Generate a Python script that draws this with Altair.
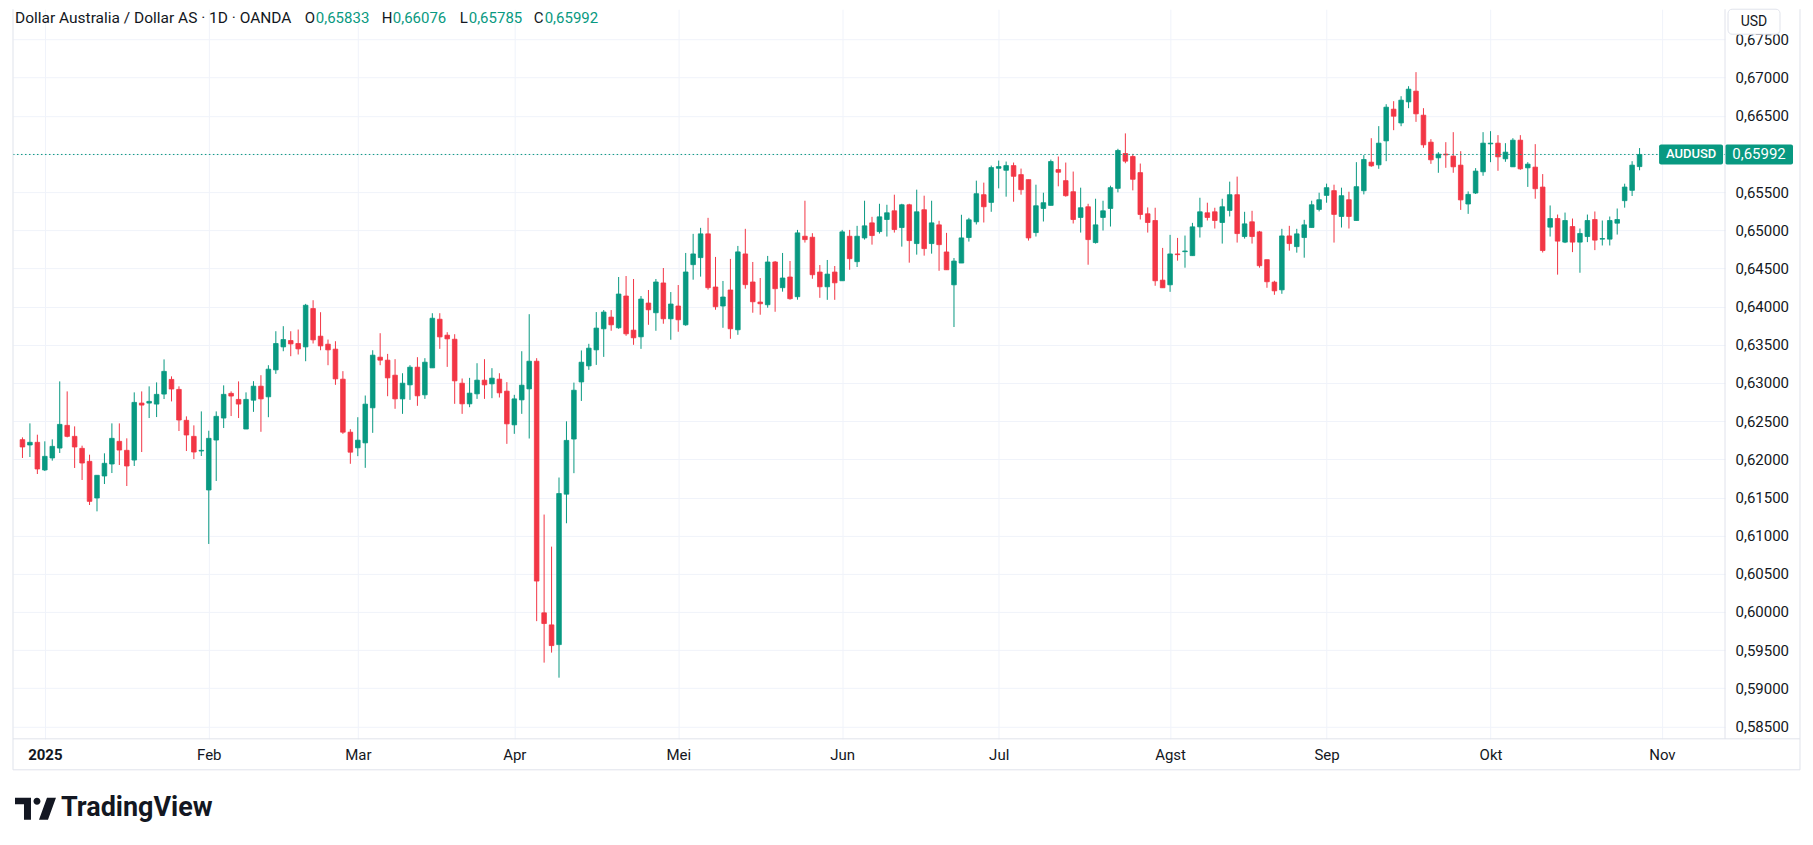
import altair as alt
import pandas as pd

# ---- data (AUD/USD daily, OANDA) ----
opens = [0.62257, 0.62187, 0.62222, 0.61860, 0.62017, 0.62147, 0.62444, 0.62300, 0.62143, 0.61973,
         0.61493, 0.61781, 0.61938, 0.62235, 0.62117, 0.61990, 0.62736, 0.62736, 0.62723, 0.62854,
         0.63046, 0.62915, 0.62510, 0.62300, 0.62108, 0.61598, 0.62252, 0.62540, 0.62863, 0.62784,
         0.62396, 0.62774, 0.62957, 0.62818, 0.63171, 0.63472, 0.63555, 0.63516, 0.63472, 0.63974,
         0.63612, 0.63507, 0.63442, 0.63049, 0.62355, 0.62150, 0.62215, 0.62674, 0.63337, 0.63298,
         0.63101, 0.62791, 0.62975, 0.63206, 0.62844, 0.63197, 0.63834, 0.63625, 0.63572, 0.62996,
         0.62726, 0.62857, 0.63036, 0.62988, 0.63049, 0.62892, 0.62451, 0.62778, 0.62922, 0.63284,
         0.59989, 0.59831, 0.59573, 0.61543, 0.62265, 0.63013, 0.63223, 0.63433, 0.63709, 0.63862,
         0.63722, 0.64138, 0.63691, 0.63604, 0.64046, 0.63919, 0.64309, 0.63840, 0.64007, 0.63761,
         0.64549, 0.64641, 0.64952, 0.64256, 0.64007, 0.64217, 0.63696, 0.64689, 0.64322, 0.64059,
         0.64024, 0.64584, 0.64247, 0.64387, 0.64129, 0.64921, 0.64908, 0.64452, 0.64259, 0.64452,
         0.64338, 0.64921, 0.64588, 0.64899, 0.65096, 0.64982, 0.65140, 0.65254, 0.65035, 0.65333,
         0.64825, 0.65268, 0.64825, 0.65070, 0.64715, 0.64285, 0.64570, 0.64904, 0.65110, 0.65465,
         0.65364, 0.65811, 0.65785, 0.65846, 0.65728, 0.65662, 0.64969, 0.65285, 0.65325, 0.65794,
         0.65649, 0.65504, 0.65167, 0.65307, 0.64838, 0.65167, 0.65285, 0.65548, 0.66004, 0.65965,
         0.65754, 0.65215, 0.65127, 0.64346, 0.64285, 0.64689, 0.64719, 0.64667, 0.65044, 0.65228,
         0.65241, 0.65101, 0.65259, 0.65465, 0.64917, 0.65110, 0.64978, 0.64614, 0.64320, 0.64219,
         0.64925, 0.64785, 0.64904, 0.65035, 0.65272, 0.65456, 0.65518, 0.65180, 0.65399, 0.65127,
         0.65517, 0.65891, 0.65856, 0.66170, 0.66585, 0.66405, 0.66681, 0.66821, 0.66506, 0.66153,
         0.65948, 0.65996, 0.65970, 0.65852, 0.65343, 0.65487, 0.65765, 0.66131, 0.66140, 0.65935,
         0.65830, 0.66179, 0.65817, 0.65826, 0.65565, 0.65040, 0.65153, 0.64844, 0.65048, 0.64844,
         0.64917, 0.65140, 0.64883, 0.64883, 0.65092, 0.65387, 0.65522, 0.65833]
highs = [0.62287, 0.62470, 0.62322, 0.62235, 0.62261, 0.63020, 0.62889, 0.62431, 0.62178, 0.62060,
         0.61790, 0.62078, 0.62470, 0.62470, 0.62274, 0.62876, 0.62889, 0.62955, 0.63007, 0.63308,
         0.63086, 0.62955, 0.62562, 0.62444, 0.62627, 0.62374, 0.62627, 0.62968, 0.62889, 0.63020,
         0.62876, 0.63023, 0.63101, 0.63232, 0.63677, 0.63743, 0.63677, 0.63699, 0.64035, 0.64083,
         0.63926, 0.63568, 0.63546, 0.63154, 0.62394, 0.62551, 0.62835, 0.63428, 0.63651, 0.63380,
         0.63311, 0.63127, 0.63232, 0.63337, 0.63324, 0.63913, 0.63913, 0.63664, 0.63638, 0.63058,
         0.63066, 0.63258, 0.63311, 0.63193, 0.63127, 0.63010, 0.62844, 0.63415, 0.63900, 0.63324,
         0.61276, 0.60856, 0.61761, 0.62497, 0.63004, 0.63425, 0.63512, 0.63928, 0.63954, 0.63954,
         0.64387, 0.64400, 0.64361, 0.64138, 0.64217, 0.64361, 0.64505, 0.64190, 0.64282, 0.64702,
         0.64952, 0.65031, 0.65162, 0.64650, 0.64335, 0.64624, 0.64794, 0.65018, 0.64584, 0.64374,
         0.64663, 0.64597, 0.64702, 0.64597, 0.65004, 0.65386, 0.64961, 0.64544, 0.64610, 0.64531,
         0.65004, 0.65004, 0.65057, 0.65386, 0.65175, 0.65346, 0.65333, 0.65465, 0.65346, 0.65346,
         0.65531, 0.65452, 0.65386, 0.65123, 0.64965, 0.64636, 0.65202, 0.65162, 0.65649, 0.65623,
         0.65846, 0.65912, 0.65899, 0.65886, 0.65807, 0.65662, 0.65596, 0.65491, 0.65925, 0.65965,
         0.65886, 0.65768, 0.65557, 0.65346, 0.65412, 0.65386, 0.65583, 0.66066, 0.66268, 0.66000,
         0.65873, 0.65298, 0.65294, 0.64768, 0.64939, 0.64899, 0.64930, 0.65096, 0.65425, 0.65360,
         0.65294, 0.65412, 0.65636, 0.65702, 0.65241, 0.65254, 0.64991, 0.64614, 0.64338, 0.65018,
         0.65057, 0.65018, 0.65136, 0.65386, 0.65491, 0.65610, 0.65596, 0.65557, 0.65504, 0.65891,
         0.65983, 0.66205, 0.66363, 0.66650, 0.66690, 0.66755, 0.66886, 0.67070, 0.66598, 0.66192,
         0.66022, 0.66153, 0.66284, 0.66035, 0.65508, 0.65813, 0.66284, 0.66297, 0.66245, 0.66140,
         0.66205, 0.66245, 0.65891, 0.66127, 0.65735, 0.65324, 0.65205, 0.65231, 0.65153, 0.65022,
         0.65205, 0.65245, 0.65127, 0.65179, 0.65284, 0.65609, 0.65904, 0.66076]
lows = [0.62017, 0.62030, 0.61807, 0.61846, 0.61982, 0.62082, 0.62287, 0.61886, 0.61729, 0.61401,
        0.61318, 0.61676, 0.61820, 0.61925, 0.61650, 0.61912, 0.62095, 0.62540, 0.62553, 0.62789,
        0.62758, 0.62370, 0.62108, 0.62003, 0.62043, 0.60891, 0.61716, 0.62409, 0.62566, 0.62540,
        0.62396, 0.62621, 0.62360, 0.62551, 0.63119, 0.63415, 0.63350, 0.63372, 0.63284, 0.63516,
        0.63428, 0.63232, 0.62975, 0.62333, 0.61941, 0.62041, 0.61888, 0.62346, 0.63232, 0.62826,
        0.62661, 0.62595, 0.62778, 0.62700, 0.62791, 0.63197, 0.63446, 0.63210, 0.62726, 0.62595,
        0.62682, 0.62791, 0.62791, 0.62800, 0.62809, 0.62202, 0.62333, 0.62595, 0.62272, 0.59880,
        0.59337, 0.59468, 0.59140, 0.61162, 0.61818, 0.62764, 0.63171, 0.63236, 0.63341, 0.63683,
        0.63709, 0.63617, 0.63499, 0.63446, 0.63761, 0.63683, 0.63775, 0.63565, 0.63670, 0.63748,
        0.64352, 0.64392, 0.64221, 0.63958, 0.63722, 0.63578, 0.63630, 0.64234, 0.63919, 0.63893,
        0.63985, 0.63932, 0.64195, 0.64090, 0.64090, 0.64838, 0.64364, 0.64114, 0.64088, 0.64088,
        0.64338, 0.64482, 0.64518, 0.64877, 0.64811, 0.64956, 0.64917, 0.64969, 0.64785, 0.64575,
        0.64680, 0.64667, 0.64693, 0.64469, 0.64482, 0.63732, 0.64570, 0.64851, 0.65075, 0.65101,
        0.65241, 0.65548, 0.65439, 0.65373, 0.65465, 0.64864, 0.64917, 0.65114, 0.65325, 0.65575,
        0.65439, 0.65088, 0.64969, 0.64548, 0.64825, 0.64996, 0.65048, 0.65496, 0.65877, 0.65522,
        0.65140, 0.64969, 0.64272, 0.64246, 0.64193, 0.64601, 0.64509, 0.64667, 0.64904, 0.65127,
        0.65022, 0.64825, 0.65180, 0.64838, 0.64890, 0.64825, 0.64509, 0.64246, 0.64154, 0.64167,
        0.64732, 0.64706, 0.64640, 0.65035, 0.65246, 0.65360, 0.64838, 0.65035, 0.65022, 0.65127,
        0.65469, 0.65830, 0.65804, 0.65904, 0.66310, 0.66362, 0.66598, 0.66419, 0.66079, 0.65869,
        0.65752, 0.65817, 0.65752, 0.65266, 0.65214, 0.65474, 0.65713, 0.65891, 0.65778, 0.65896,
        0.65830, 0.65791, 0.65567, 0.65412, 0.64708, 0.64917, 0.64418, 0.64831, 0.64713, 0.64443,
        0.64844, 0.64739, 0.64800, 0.64800, 0.64943, 0.65295, 0.65448, 0.65785]
closes = [0.62161, 0.62222, 0.61873, 0.62038, 0.62169, 0.62457, 0.62300, 0.62161, 0.61951, 0.61449,
          0.61790, 0.61947, 0.62274, 0.62121, 0.61912, 0.62745, 0.62710, 0.62758, 0.62850, 0.63151,
          0.62920, 0.62514, 0.62318, 0.62095, 0.62117, 0.62274, 0.62562, 0.62850, 0.62828, 0.62723,
          0.62784, 0.62957, 0.62791, 0.63180, 0.63516, 0.63568, 0.63511, 0.63446, 0.64017, 0.63564,
          0.63485, 0.63433, 0.63053, 0.62355, 0.62093, 0.62250, 0.62722, 0.63363, 0.63298, 0.63066,
          0.62791, 0.62996, 0.63206, 0.62831, 0.63271, 0.63847, 0.63603, 0.63577, 0.63027, 0.62726,
          0.62866, 0.63036, 0.62975, 0.63062, 0.62870, 0.62464, 0.62791, 0.62970, 0.63284, 0.60405,
          0.59849, 0.59560, 0.61551, 0.62247, 0.62904, 0.63271, 0.63455, 0.63718, 0.63928, 0.63761,
          0.64164, 0.63643, 0.63591, 0.64098, 0.63958, 0.64322, 0.63840, 0.64033, 0.63827, 0.64453,
          0.64689, 0.64952, 0.64247, 0.63998, 0.64125, 0.63709, 0.64716, 0.64287, 0.64063, 0.64037,
          0.64584, 0.64234, 0.64374, 0.64103, 0.64965, 0.64877, 0.64417, 0.64259, 0.64425, 0.64311,
          0.64978, 0.64627, 0.64921, 0.65057, 0.64930, 0.65175, 0.65228, 0.65009, 0.65333, 0.64864,
          0.65241, 0.64759, 0.65096, 0.64811, 0.64482, 0.64596, 0.64899, 0.65136, 0.65478, 0.65307,
          0.65820, 0.65833, 0.65846, 0.65706, 0.65531, 0.64899, 0.65320, 0.65360, 0.65899, 0.65759,
          0.65452, 0.65140, 0.65294, 0.64877, 0.65070, 0.65254, 0.65557, 0.66044, 0.65904, 0.65667,
          0.65206, 0.65101, 0.64338, 0.64246, 0.64689, 0.64680, 0.64728, 0.65044, 0.65241, 0.65167,
          0.65127, 0.65307, 0.65465, 0.64956, 0.65083, 0.64917, 0.64535, 0.64325, 0.64206, 0.64925,
          0.64825, 0.64952, 0.65070, 0.65333, 0.65399, 0.65557, 0.65207, 0.65452, 0.65180, 0.65570,
          0.65926, 0.65843, 0.66140, 0.66611, 0.66493, 0.66703, 0.66847, 0.66524, 0.66118, 0.65922,
          0.65996, 0.65987, 0.65830, 0.65397, 0.65469, 0.65774, 0.66140, 0.66140, 0.65961, 0.66022,
          0.66179, 0.65804, 0.65865, 0.65543, 0.64734, 0.65153, 0.64857, 0.65127, 0.64844, 0.64957,
          0.65127, 0.64870, 0.64891, 0.65127, 0.65140, 0.65565, 0.65852, 0.65992]

month_idx = [3, 25, 45, 66, 88, 110, 131, 154, 175, 197, 220]
month_labels = ["2025", "Feb", "Mar", "Apr", "Mei", "Jun", "Jul", "Agst", "Sep", "Okt", "Nov"]
price_ticks = [0.585, 0.590, 0.595, 0.600, 0.605, 0.610, 0.615, 0.620, 0.625, 0.630,
               0.635, 0.640, 0.645, 0.650, 0.655, 0.660, 0.665, 0.670, 0.675]

symbol_name = "AUDUSD"
title_text = "Dollar Australia / Dollar AS · 1D · OANDA"

# ---- styles ----
GREEN = "#089981"
RED = "#F23645"
DARK = "#131722"
GRID = "#f0f3fa"
BORDER = "#e0e3eb"
FONT = "Roboto"
W, H = 1713, 730

df = pd.DataFrame({"i": list(range(len(opens))), "o": opens, "h": highs, "l": lows, "c": closes})
df["dir"] = ["up" if c >= o else "down" for o, c in zip(opens, closes)]

def fmt(v):
    return f"{v:.5f}".replace(".", ",")

label_expr = ""
for k, lab in zip(month_idx, month_labels):
    label_expr += f"datum.value == {k} ? '{lab}' : "
label_expr += "''"

xscale = alt.Scale(domain=[-0.6, 227.8], nice=False, zero=False)
yscale = alt.Scale(domain=[0.58339, 0.67894], nice=False, zero=False)
dir_scale = alt.Scale(domain=["up", "down"], range=[GREEN, RED])

xaxis = alt.Axis(values=month_idx, labelExpr=label_expr, grid=True, gridColor=GRID, domain=False,
                 ticks=False, labelFontSize=15, labelColor=DARK, labelPadding=9, title=None,
                 labelFont=FONT, labelFlush=False, labelOverlap=False,
                 labelFontWeight={"condition": {"test": "datum.value == 3", "value": "bold"}, "value": "normal"})
yaxis = alt.Axis(orient="right", values=price_ticks, labelExpr="replace(format(datum.value, '.5f'), '.', ',')",
                 grid=True, gridColor=GRID, domain=False, ticks=False, labelFontSize=15, labelColor=DARK,
                 labelPadding=10, title=None, labelFont=FONT, labelFlush=False, labelOverlap=False)

def X(field):
    return alt.X(field, scale=xscale, axis=xaxis)

def Y(field):
    return alt.Y(field, scale=yscale, axis=yaxis)

wicks = alt.Chart(df).mark_rule(strokeWidth=1).encode(
    x=X("i:Q"), y=Y("l:Q"), y2="h:Q",
    color=alt.Color("dir:N", scale=dir_scale, legend=None),
)
bodies = alt.Chart(df).mark_bar(size=4.6, strokeWidth=0.8).encode(
    x=X("i:Q"), y=Y("o:Q"), y2="c:Q",
    color=alt.Color("dir:N", scale=dir_scale, legend=None),
    stroke=alt.Stroke("dir:N", scale=dir_scale, legend=None),
)

last = pd.DataFrame({"c": [closes[-1]], "txt": [fmt(closes[-1])]})
last_line = alt.Chart(last).mark_rule(color=GREEN, strokeDash=[1.5, 2.5], strokeWidth=1).encode(
    y=Y("c:Q"), x=alt.value(0), x2=alt.value(W))
tag1 = alt.Chart(last).mark_rect(color=GREEN, yOffset=-10, y2Offset=10, cornerRadius=2).encode(
    y=Y("c:Q"), y2="c:Q", x=alt.value(1647), x2=alt.value(1711))
tag2 = alt.Chart(last).mark_rect(color=GREEN, yOffset=-10, y2Offset=10, cornerRadius=2).encode(
    y=Y("c:Q"), y2="c:Q", x=alt.value(1713), x2=alt.value(1781))
tag1_t = alt.Chart(last).mark_text(color="white", fontSize=13, font=FONT, fontWeight=500).encode(
    y=Y("c:Q"), x=alt.value(1679), text=alt.value(symbol_name))
tag2_t = alt.Chart(last).mark_text(color="white", fontSize=15, font=FONT).encode(
    y=Y("c:Q"), x=alt.value(1747), text="txt:N")

one = pd.DataFrame({"a": [0]})

def txt(text, x, y, size=15, col=DARK, weight="normal", align="left"):
    return alt.Chart(one).mark_text(text=text, fontSize=size, color=col, fontWeight=weight,
                                    align=align, baseline="middle", font=FONT).encode(
        x=alt.value(x), y=alt.value(y))

legend_layers = [
    txt(title_text, 2, 9, size=15.5),
    txt("O", 292, 9), txt(fmt(opens[-1]), 303, 9, col=GREEN),
    txt("H", 369, 9), txt(fmt(highs[-1]), 380, 9, col=GREEN),
    txt("L", 447, 9), txt(fmt(lows[-1]), 456, 9, col=GREEN),
    txt("C", 521, 9), txt(fmt(closes[-1]), 532, 9, col=GREEN),
]

def rule(x, x2, y, y2, col=BORDER):
    return alt.Chart(one).mark_rule(color=col, strokeWidth=1).encode(
        x=alt.value(x), x2=alt.value(x2), y=alt.value(y), y2=alt.value(y2))

frame = [
    rule(0, 0, 0, 761), rule(0, 1788, 761, 761), rule(1788, 1788, 0, 761),
    rule(0, 1788, H, H), rule(W, W, 0, H),
]

usd_box = alt.Chart(one).mark_rect(fill="white", stroke=BORDER, strokeWidth=1, cornerRadius=4).encode(
    x=alt.value(1716), x2=alt.value(1768), y=alt.value(0), y2=alt.value(25))
usd_txt = txt("USD", 1742, 13, size=14, align="center")

logo_path = ("M-1,-0.537 L-0.22,-0.537 L-0.22,0.537 L-0.561,0.537 L-0.561,-0.22 L-1,-0.22 Z "
             "M-0.098,-0.366 A0.171,0.171 0 1 0 0.244,-0.366 A0.171,0.171 0 1 0 -0.098,-0.366 Z "
             "M0.171,0.537 L0.561,-0.537 L1,-0.537 L0.61,0.537 Z")
logo = alt.Chart(one).mark_point(shape=logo_path, filled=True, size=1681, color=DARK, opacity=1,
                                 strokeWidth=0).encode(x=alt.value(22.5), y=alt.value(800))
logo_txt = txt("TradingView", 48, 799, size=27, weight="bold")

chart = alt.layer(
    wicks, bodies, last_line, tag1, tag2, tag1_t, tag2_t, *legend_layers, *frame,
    usd_box, usd_txt, logo, logo_txt
).properties(
    width=W, height=H, padding={"left": 4, "top": 0, "right": 4, "bottom": 4}, background="white"
).configure_view(stroke=None)

chart.save("out.html", embed_options={"renderer": "svg", "actions": False})
